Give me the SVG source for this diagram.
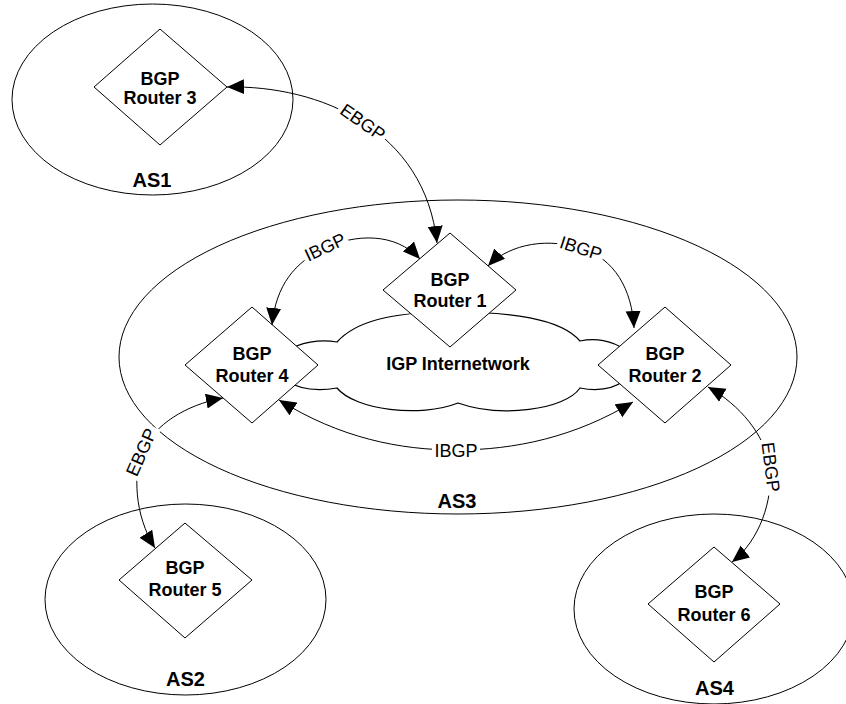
<svg xmlns="http://www.w3.org/2000/svg" width="846" height="704" viewBox="0 0 846 704">
<defs>
<marker id="arr" markerUnits="userSpaceOnUse" markerWidth="18" markerHeight="16" refX="17" refY="7.5" orient="auto-start-reverse" viewBox="0 0 18 16">
<path d="M0,0 L17,7.5 L0,15 z" fill="#000"/>
</marker>
<style>
.as{fill:none;stroke:#000;stroke-width:1}
.rt{fill:#fff;stroke:#000;stroke-width:1}
.cl{fill:#fff;stroke:#000;stroke-width:1.2}
.cn{fill:none;stroke:#000;stroke-width:1;marker-start:url(#arr);marker-end:url(#arr)}
.t{font-family:"Liberation Sans",Arial,sans-serif;font-size:18px;font-weight:bold;text-anchor:middle;fill:#000}
.a{font-family:"Liberation Sans",Arial,sans-serif;font-size:20px;font-weight:bold;text-anchor:middle;fill:#000}
.l{font-family:"Liberation Sans",Arial,sans-serif;font-size:18px;text-anchor:middle;fill:#000}
.bg{fill:#fff}
</style>
</defs>
<rect width="846" height="704" fill="#fff"/>

<g id="as1"><ellipse class="as" cx="152.5" cy="99.5" rx="140.5" ry="95.5"/><text class="a" x="152" y="187">AS1</text></g>
<g id="as3"><ellipse class="as" cx="458" cy="357" rx="339" ry="157"/><text class="a" x="457" y="508">AS3</text></g>
<g id="as2"><ellipse class="as" cx="185.5" cy="599.5" rx="140.5" ry="95.5"/><text class="a" x="185.5" y="686">AS2</text></g>
<g id="as4"><ellipse class="as" cx="714" cy="609" rx="140" ry="95"/><text class="a" x="714.5" y="695">AS4</text></g>

<g id="cloud">
<path class="cl" d="M285,352 C300,342 320,339 337,342 C355,322 390,312 450,312 C510,312 560,318 580,341 C595,338 612,340 625,350 L625,380 C612,390 595,391 580,388 C565,410 500,418 458,403 C420,418 355,410 337,388 C320,391 300,390 285,380 Z"/>
<text class="t" x="458" y="370">IGP Internetwork</text>
</g>

<g id="router3"><path class="rt" d="M160,29 L227,87 L160,145 L94,87 Z"/><text class="t" x="160" y="85">BGP</text><text class="t" x="160" y="104">Router 3</text></g>
<g id="router1"><path class="rt" d="M450,233 L516,290 L450,347 L383,290 Z"/><text class="t" x="450" y="286">BGP</text><text class="t" x="450" y="307">Router 1</text></g>
<g id="router4"><path class="rt" d="M252,307 L318,365 L252,423 L185,365 Z"/><text class="t" x="252" y="360">BGP</text><text class="t" x="252" y="382">Router 4</text></g>
<g id="router2"><path class="rt" d="M665,307 L731,365 L665,423 L598,365 Z"/><text class="t" x="665" y="360">BGP</text><text class="t" x="665" y="382">Router 2</text></g>
<g id="router5"><path class="rt" d="M185,523 L252,580 L185,638 L119,580 Z"/><text class="t" x="185" y="574">BGP</text><text class="t" x="185" y="596">Router 5</text></g>
<g id="router6"><path class="rt" d="M714,547 L780,604 L714,662 L648,604 Z"/><text class="t" x="714" y="598">BGP</text><text class="t" x="714" y="621">Router 6</text></g>

<g id="connectors">
<path class="cn" d="M227,87 C320,85 425,130 437,243"/>
<path class="cn" d="M272,325 C276,285 295,262 325,248 S395,232 420,259"/>
<path class="cn" d="M488,266 C505,248 540,236 580,248 C615,258 632,290 634,328"/>
<path class="cn" d="M279,400 C340,438 400,450 456,450 C515,450 575,437 633,402"/>
<path class="cn" d="M223,398 C185,405 155,425 143,450 C133,472 134,515 155,548"/>
<path class="cn" d="M708,387 C740,405 765,435 770,467 C773,500 760,540 732,562"/>

<g transform="translate(363,122) rotate(35)"><rect class="bg" x="-28" y="-9" width="56" height="18"/><text class="l" y="6.5">EBGP</text></g>
<g transform="translate(325,247) rotate(-25)"><rect class="bg" x="-24" y="-9" width="48" height="18"/><text class="l" y="6.5">IBGP</text></g>
<g transform="translate(581,248) rotate(18)"><rect class="bg" x="-24" y="-9" width="48" height="18"/><text class="l" y="6.5">IBGP</text></g>
<g transform="translate(456,450)"><rect class="bg" x="-24" y="-9" width="48" height="18"/><text class="l" y="6.5">IBGP</text></g>
<g transform="translate(141,452) rotate(-66)"><rect class="bg" x="-28" y="-9" width="56" height="18"/><text class="l" y="6.5">EBGP</text></g>
<g transform="translate(771,467) rotate(83)"><rect class="bg" x="-28" y="-9" width="56" height="18"/><text class="l" y="6.5">EBGP</text></g>
</g>
</svg>
